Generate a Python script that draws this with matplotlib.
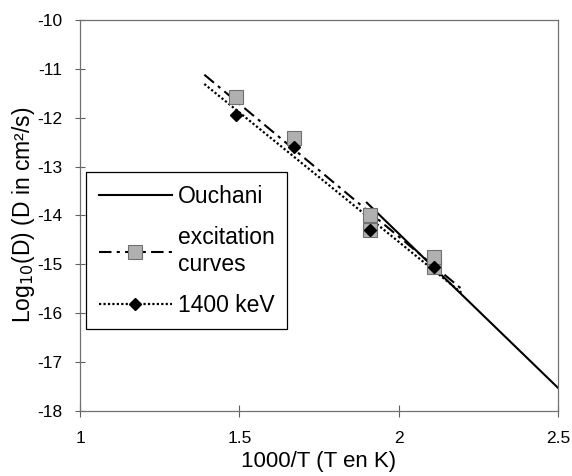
import matplotlib.pyplot as plt
from matplotlib.lines import Line2D

# measured points
x_pts = [1.49, 1.67, 1.91, 2.11]
exc_y = [-11.57, -12.42, -13.99, -14.85]
kev_y = [-11.95, -12.60, -14.30, -15.06]

# extra grey squares hidden behind the diamonds
exc_x_extra = [1.91, 2.11]
exc_y_extra = [-14.30, -15.06]

# fitted lines (end points)
ouchani_x = [1.90, 2.50]
ouchani_y = [-13.74, -17.53]
exc_fit_x = [1.39, 2.20]
exc_fit_y = [-11.12, -15.52]
kev_fit_x = [1.39, 2.20]
kev_fit_y = [-11.31, -15.60]

xticks = [1, 1.5, 2, 2.5]
yticks = list(range(-18, -9))

plt.rcParams['font.family'] = ['Liberation Sans', 'DejaVu Sans']
plt.rcParams['axes.unicode_minus'] = False

fig = plt.figure(figsize=(5.72, 4.76), dpi=100)
ax = fig.add_axes([0.14, 0.137, 0.8355, 0.821])

ax.plot(ouchani_x, ouchani_y, color='black', lw=1.5)
ax.plot(exc_fit_x, exc_fit_y, color='black', lw=1.5, dashes=[6, 2.5, 1.5, 2.5])
ax.plot(kev_fit_x, kev_fit_y, color='black', lw=1.6, linestyle=(0, (1, 1)))

ax.plot(exc_x_extra, exc_y_extra, 's', ms=9.5, mfc='#b0b0b0', mec='#707070', mew=0.8)
ax.plot(x_pts, exc_y, 's', ms=9.5, mfc='#b0b0b0', mec='#707070', mew=0.8)
ax.plot(x_pts, kev_y, 'D', ms=6.5, color='black')

ax.set_xlim(1, 2.5)
ax.set_ylim(-18, -10)
ax.set_xticks(xticks)
ax.set_xticklabels(['1', '1.5', '2', '2.5'])
ax.set_yticks(yticks)
ax.tick_params(direction='inout', width=0.8, color='#606060', labelsize=12.5)
ax.tick_params(axis='y', length=7, pad=9)
ax.tick_params(axis='x', length=9, pad=10)
for s in ax.spines.values():
    s.set_color('#707070')
    s.set_linewidth(0.9)

ax.set_xlabel('1000/T (T en K)', fontsize=16, labelpad=4)
ax.set_ylabel('Log$_{10}$(D) (D in cm²/s)', fontsize=16.5, labelpad=0)

handles = [
    Line2D([], [], color='black', lw=1.5),
    Line2D([], [], color='black', lw=1.5, dashes=[6, 2.5, 1.5, 2.5],
           marker='s', ms=9.5, mfc='#b0b0b0', mec='#707070', mew=0.8),
    Line2D([], [], color='black', lw=1.6, linestyle=(0, (1, 1)),
           marker='D', ms=6.5, mfc='black', mec='black'),
]
labels = ['Ouchani', 'excitation\ncurves', '1400 keV']
leg = ax.legend(handles, labels, loc='upper left', bbox_to_anchor=(0.0126, 0.611),
                fontsize=16.5, handlelength=3.2, handletextpad=0.25, labelspacing=0.8,
                borderpad=0.55, fancybox=False, framealpha=1, borderaxespad=0)
leg.get_frame().set_edgecolor('black')
leg.get_frame().set_linewidth(0.9)

fig.savefig('out.png', dpi=100)
